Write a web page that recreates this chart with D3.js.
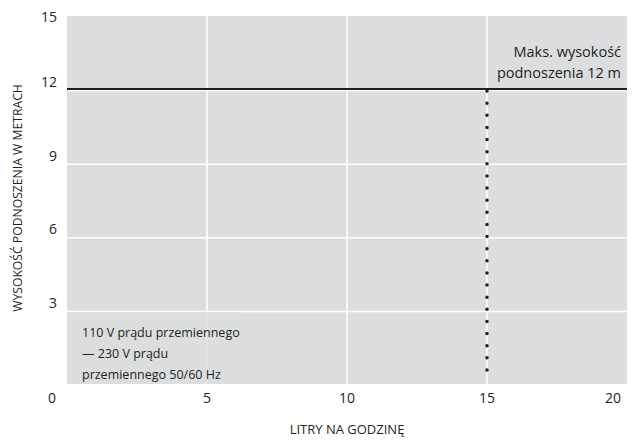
<!DOCTYPE html>
<html>
<head>
<meta charset="utf-8">
<script src="https://cdn.jsdelivr.net/npm/d3@7"></script>
<style>
    body { margin: 0; background: #fff; }
    svg text { font-family: 'Liberation Sans Narrow', 'Open Sans', sans-serif; fill: #231f20; }
</style>
</head>
<body>
<svg id="chart" width="638" height="442"></svg>
<script>
// dane wykresu
const xTicks = [0, 5, 10, 15, 20]
const yTicks = [3, 6, 9, 12, 15]
const xDomain = [0, 20]
const yDomain = [0, 15]
// maks. wysokość podnoszenia i przepływ przy niej
const maxLift = 12
const maxLiftFlow = 15
const maxLabel = ['Maks. wysokość', 'podnoszenia 12 m']
const noteLines = ['110 V prądu przemiennego', '— 230 V prądu', 'przemiennego 50/60 Hz']
const xTitle = 'LITRY NA GODZINĘ'
const yTitle = 'WYSOKOŚĆ PODNOSZENIA W METRACH'

const margin = { top: 16, right: 11, bottom: 58, left: 67 }
const width = 638 - margin.left - margin.right
const height = 442 - margin.top - margin.bottom

const svg = d3.select('#chart')
const g = svg.append('g').attr('transform', `translate(${margin.left},${margin.top})`)

const x = d3.scaleLinear().domain(xDomain).range([0, width])
const y = d3.scaleLinear().domain(yDomain).range([height, 0])

// tło
g.append('rect').attr('width', width).attr('height', height).attr('fill', '#dcdddf')

// siatka pionowa
g.selectAll('.vgrid')
    .data(xTicks.filter((d) => d > xDomain[0] && d < xDomain[1]))
    .enter()
    .append('line')
    .attr('x1', (d) => x(d))
    .attr('x2', (d) => x(d))
    .attr('y1', 0)
    .attr('y2', height)
    .attr('stroke', '#fff')
    .attr('stroke-width', 1.5)

// siatka pozioma
g.selectAll('.hgrid')
    .data(yTicks.filter((d) => d < yDomain[1]))
    .enter()
    .append('line')
    .attr('x1', 0)
    .attr('x2', width)
    .attr('y1', (d) => y(d) + 1)
    .attr('y2', (d) => y(d) + 1)
    .attr('stroke', '#fff')
    .attr('stroke-width', 1.5)

// pole opisu (przesłania siatkę)
g.append('rect')
    .attr('x', 0)
    .attr('y', y(3) + 2)
    .attr('width', x(6.2))
    .attr('height', height - y(3) - 2)
    .attr('fill', '#dcdddf')
    .attr('opacity', 0.8)

// linia maks. wysokości
g.append('line')
    .attr('x1', 0)
    .attr('x2', width)
    .attr('y1', y(maxLift) - 0.5)
    .attr('y2', y(maxLift) - 0.5)
    .attr('stroke', '#231f20')
    .attr('stroke-width', 2)

// linia kropkowana
g.append('line')
    .attr('x1', x(maxLiftFlow))
    .attr('x2', x(maxLiftFlow))
    .attr('y1', y(maxLift) + 1.5)
    .attr('y2', height - 2)
    .attr('stroke', '#231f20')
    .attr('stroke-width', 3.5)
    .attr('stroke-linecap', 'round')
    .attr('stroke-dasharray', `0,${(height - 3.5 - y(maxLift)) / 24}`)

// etykiety osi Y
g.selectAll('.ylab')
    .data(yTicks)
    .enter()
    .append('text')
    .attr('x', -10)
    .attr('y', (d) => (d === yDomain[1] ? y(d) + 1 : y(d) - 7.5))
    .attr('dy', '0.35em')
    .attr('text-anchor', 'end')
    .attr('font-size', '14px')
    .text((d) => d)

// etykiety osi X
g.selectAll('.xlab')
    .data(xTicks)
    .enter()
    .append('text')
    .attr('x', (d) => (d === xDomain[0] ? x(d) - 15 : d === xDomain[1] ? x(d) - 6 : x(d)))
    .attr('y', height + 14)
    .attr('dy', '0.35em')
    .attr('text-anchor', (d) => (d === xDomain[1] ? 'end' : 'middle'))
    .attr('font-size', '14px')
    .text((d) => d)

// tytuł osi X
g.append('text')
    .attr('x', width / 2)
    .attr('y', height + 50)
    .attr('text-anchor', 'middle')
    .attr('font-size', '13px')
    .text(xTitle)

// tytuł osi Y
svg.append('text')
    .attr('transform', `translate(22,${margin.top + height / 2 - 2}) rotate(-90)`)
    .attr('text-anchor', 'middle')
    .attr('font-size', '12.2px')
    .text(yTitle)

// opis maks. wysokości
g.append('text')
    .attr('text-anchor', 'end')
    .attr('font-size', '14.5px')
    .selectAll('tspan')
    .data(maxLabel)
    .enter()
    .append('tspan')
    .attr('x', width - 6)
    .attr('y', (d, i) => 41 + i * 21)
    .text((d) => d)

// opis napięcia
g.append('text')
    .attr('font-size', '12.5px')
    .selectAll('tspan')
    .data(noteLines)
    .enter()
    .append('tspan')
    .attr('x', 15)
    .attr('y', (d, i) => y(3) + 27 + i * 21)
    .text((d) => d)
</script>
</body>
</html>
